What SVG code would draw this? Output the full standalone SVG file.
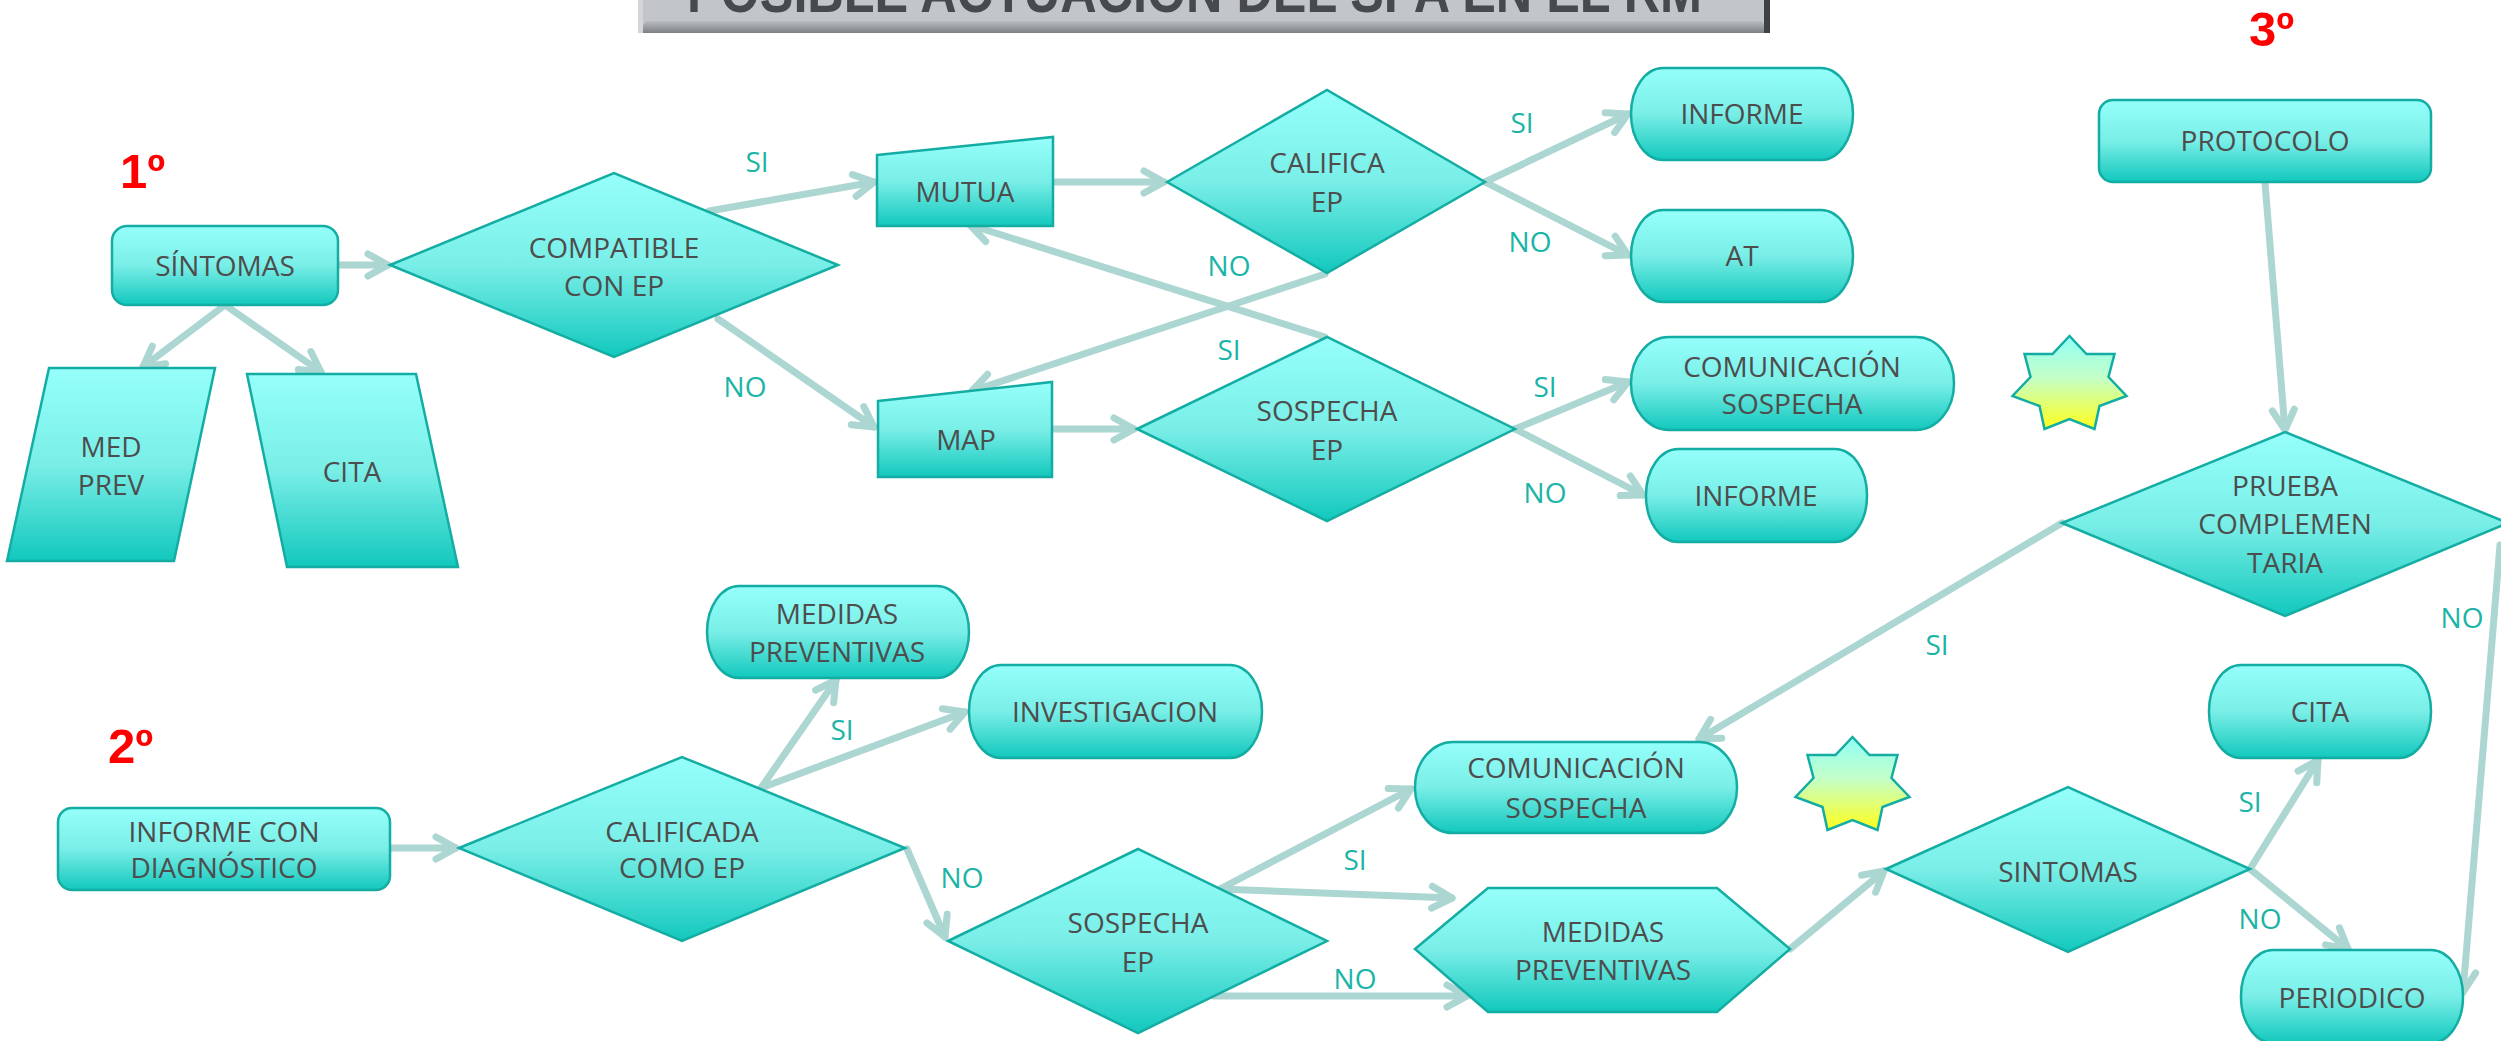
<svg xmlns="http://www.w3.org/2000/svg" width="2501" height="1041" viewBox="0 0 2501 1041">
<style>
.n{fill:url(#g);stroke:#13ada3;stroke-width:2.5}
.t{font-family:"Open Sans","Liberation Sans",sans-serif;font-size:28px;fill:#4d4d4d;text-anchor:middle}
.l{font-family:"Open Sans","Liberation Sans",sans-serif;font-size:28px;fill:#1bb4a7;text-anchor:middle}
.c{stroke:#acd6d1;stroke-width:7;fill:none;stroke-linecap:round;marker-end:url(#a)}
.num{font-family:"Liberation Sans",Arial,sans-serif;font-weight:bold;font-size:49px;fill:#ff0000}
.star{fill:url(#sg);stroke:#13ada3;stroke-width:2.5}
</style>
<defs>
<linearGradient id="g" x1="0" y1="0" x2="0" y2="1">
<stop offset="0" stop-color="#96fffb"/>
<stop offset="0.5" stop-color="#79eee7"/>
<stop offset="1" stop-color="#12c8bd"/>
</linearGradient>
<linearGradient id="sg" x1="0" y1="0" x2="0" y2="1">
<stop offset="0" stop-color="#90fff6"/>
<stop offset="0.45" stop-color="#c4ffc8"/>
<stop offset="1" stop-color="#ffff1a"/>
</linearGradient>
<linearGradient id="tb" x1="0" y1="0" x2="0" y2="1">
<stop offset="0" stop-color="#b9bcc0"/>
<stop offset="1" stop-color="#7c7f83"/>
</linearGradient>
<marker id="a" markerUnits="userSpaceOnUse" viewBox="-30 -20 40 40" refX="0" refY="0" markerWidth="40" markerHeight="40" orient="auto" overflow="visible">
<path d="M-20,-11 L0,0 L-20,11" fill="none" stroke="#acd6d1" stroke-width="7" stroke-linecap="round" stroke-linejoin="round"/>
</marker>
<path id="st" d="M0,0 L17,18 L45,18 L39,41 L57,60 L30,70 L25,93 L0,83 L-25,93 L-30,70 L-57,60 L-39,41 L-45,18 L-17,18 Z"/>
</defs>

<g id="title">
<rect x="638" y="-40" width="1132" height="73" fill="#c2c5c9"/>
<polygon points="646,21 1762,21 1770,33 638,33" fill="url(#tb)"/>
<rect x="638" y="-40" width="5" height="73" fill="#d4d6d9"/>
<rect x="1764" y="-40" width="6" height="73" fill="#3f4245"/>
<text x="687" y="12" font-family="Liberation Sans,Arial,sans-serif" font-weight="bold" font-size="60" fill="#46494e" textLength="1015" lengthAdjust="spacingAndGlyphs">POSIBLE ACTUACIÓN DEL SPA EN EL RM</text>
</g>

<g id="connectors">
<line class="c" x1="338" y1="265" x2="388" y2="265"/>
<line class="c" x1="225" y1="305" x2="143" y2="367"/>
<line class="c" x1="225" y1="305" x2="321" y2="372"/>
<line class="c" x1="709" y1="211" x2="874" y2="182"/>
<line class="c" x1="718" y1="319" x2="874" y2="427"/>
<line class="c" x1="1054" y1="182" x2="1164" y2="182"/>
<line class="c" x1="1054" y1="429" x2="1134" y2="429"/>
<line class="c" x1="1485" y1="182" x2="1628" y2="114"/>
<line class="c" x1="1485" y1="182" x2="1628" y2="255"/>
<line class="c" x1="1325" y1="337" x2="970" y2="225"/>
<line class="c" x1="1325" y1="274" x2="972" y2="391"/>
<line class="c" x1="1515" y1="429" x2="1628" y2="382"/>
<line class="c" x1="1515" y1="429" x2="1643" y2="495"/>
<line class="c" x1="2265" y1="183" x2="2285" y2="430"/>
<line class="c" x1="2062" y1="523" x2="1699" y2="739"/>
<line class="c" x1="2500" y1="545" x2="2463" y2="992"/>
<line class="c" x1="391" y1="848" x2="456" y2="848"/>
<line class="c" x1="761" y1="788" x2="836" y2="680"/>
<line class="c" x1="761" y1="788" x2="965" y2="712"/>
<line class="c" x1="907" y1="849" x2="945" y2="937"/>
<line class="c" x1="1220" y1="889" x2="1411" y2="789"/>
<line class="c" x1="1220" y1="889" x2="1452" y2="898"/>
<line class="c" x1="1214" y1="996" x2="1467" y2="996"/>
<line class="c" x1="1790" y1="949" x2="1884" y2="871"/>
<line class="c" x1="2250" y1="869" x2="2318" y2="760"/>
<line class="c" x1="2250" y1="869" x2="2348" y2="949"/>
</g>

<g id="labels">
<text class="l" x="757" y="172">SI</text>
<text class="l" x="745" y="397">NO</text>
<text class="l" x="1522" y="133">SI</text>
<text class="l" x="1530" y="252">NO</text>
<text class="l" x="1229" y="276">NO</text>
<text class="l" x="1229" y="360">SI</text>
<text class="l" x="1545" y="397">SI</text>
<text class="l" x="1545" y="503">NO</text>
<text class="l" x="1937" y="655">SI</text>
<text class="l" x="2462" y="628">NO</text>
<text class="l" x="842" y="740">SI</text>
<text class="l" x="962" y="888">NO</text>
<text class="l" x="1355" y="870">SI</text>
<text class="l" x="1355" y="989">NO</text>
<text class="l" x="2250" y="812">SI</text>
<text class="l" x="2260" y="929">NO</text>
</g>

<g id="step1"><text class="num" x="120" y="188">1º</text></g>
<g id="step2"><text class="num" x="108" y="763">2º</text></g>
<g id="step3"><text class="num" x="2249" y="46">3º</text></g>

<g id="sintomas1">
<rect class="n" x="112" y="226" width="226" height="79" rx="15"/>
<text class="t" x="225" y="276">SÍNTOMAS</text>
</g>
<g id="compatible">
<polygon class="n" points="390,265 614,173 838,265 614,357"/>
<text class="t" x="614" y="258">COMPATIBLE</text>
<text class="t" x="614" y="296">CON EP</text>
</g>
<g id="medprev">
<polygon class="n" points="49,368 215,368 174,561 7,561"/>
<text class="t" x="111" y="457">MED</text>
<text class="t" x="111" y="495">PREV</text>
</g>
<g id="cita1">
<polygon class="n" points="247,374 416,374 458,567 287,567"/>
<text class="t" x="352" y="482">CITA</text>
</g>
<g id="mutua">
<polygon class="n" points="877,155 1053,137 1053,226 877,226"/>
<text class="t" x="965" y="202">MUTUA</text>
</g>
<g id="map">
<polygon class="n" points="878,401 1052,382 1052,477 878,477"/>
<text class="t" x="966" y="450">MAP</text>
</g>
<g id="califica">
<polygon class="n" points="1167,182 1327,90 1485,182 1327,273"/>
<text class="t" x="1327" y="173">CALIFICA</text>
<text class="t" x="1327" y="212">EP</text>
</g>
<g id="informe1">
<rect class="n" x="1631" y="68" width="222" height="92" rx="32" ry="46"/>
<text class="t" x="1742" y="124">INFORME</text>
</g>
<g id="at">
<rect class="n" x="1631" y="210" width="222" height="92" rx="32" ry="46"/>
<text class="t" x="1742" y="266">AT</text>
</g>
<g id="sospecha1">
<polygon class="n" points="1137,429 1327,337 1515,429 1327,521"/>
<text class="t" x="1327" y="421">SOSPECHA</text>
<text class="t" x="1327" y="460">EP</text>
</g>
<g id="comunicacion1">
<rect class="n" x="1631" y="337" width="323" height="93" rx="38" ry="46"/>
<text class="t" x="1792" y="377">COMUNICACIÓN</text>
<text class="t" x="1792" y="414">SOSPECHA</text>
</g>
<g id="informe2">
<rect class="n" x="1646" y="449" width="221" height="93" rx="32" ry="46"/>
<text class="t" x="1756" y="506">INFORME</text>
</g>
<g id="star1"><use href="#st" class="star" x="2069.5" y="336"/></g>
<g id="protocolo">
<rect class="n" x="2099" y="100" width="332" height="82" rx="14"/>
<text class="t" x="2265" y="151">PROTOCOLO</text>
</g>
<g id="prueba">
<polygon class="n" points="2062,523 2285,432 2508,523 2285,616"/>
<text class="t" x="2285" y="496">PRUEBA</text>
<text class="t" x="2285" y="534">COMPLEMEN</text>
<text class="t" x="2285" y="573">TARIA</text>
</g>
<g id="informecondiag">
<rect class="n" x="58" y="808" width="332" height="82" rx="14"/>
<text class="t" x="224" y="842">INFORME CON</text>
<text class="t" x="224" y="878">DIAGNÓSTICO</text>
</g>
<g id="calificada">
<polygon class="n" points="459,848 682,757 905,848 682,941"/>
<text class="t" x="682" y="842">CALIFICADA</text>
<text class="t" x="682" y="878">COMO EP</text>
</g>
<g id="medidas1">
<rect class="n" x="707" y="586" width="262" height="92" rx="32" ry="46"/>
<text class="t" x="837" y="624">MEDIDAS</text>
<text class="t" x="837" y="662">PREVENTIVAS</text>
</g>
<g id="investigacion">
<rect class="n" x="969" y="665" width="293" height="93" rx="32" ry="46"/>
<text class="t" x="1115" y="722">INVESTIGACION</text>
</g>
<g id="sospecha2">
<polygon class="n" points="948,941 1138,849 1327,941 1138,1033"/>
<text class="t" x="1138" y="933">SOSPECHA</text>
<text class="t" x="1138" y="972">EP</text>
</g>
<g id="comunicacion2">
<rect class="n" x="1415" y="742" width="322" height="91" rx="38" ry="45"/>
<text class="t" x="1576" y="778">COMUNICACIÓN</text>
<text class="t" x="1576" y="818">SOSPECHA</text>
</g>
<g id="star2"><use href="#st" class="star" x="1852.5" y="737"/></g>
<g id="medidas2">
<polygon class="n" points="1415,949 1488,888 1717,888 1790,949 1717,1012 1488,1012"/>
<text class="t" x="1603" y="942">MEDIDAS</text>
<text class="t" x="1603" y="980">PREVENTIVAS</text>
</g>
<g id="sintomas2">
<polygon class="n" points="1886,869 2068,787 2250,869 2068,952"/>
<text class="t" x="2068" y="882">SINTOMAS</text>
</g>
<g id="cita2">
<rect class="n" x="2209" y="665" width="222" height="93" rx="32" ry="46"/>
<text class="t" x="2320" y="722">CITA</text>
</g>
<g id="periodico">
<rect class="n" x="2241" y="950" width="222" height="93" rx="32" ry="46"/>
<text class="t" x="2352" y="1008">PERIODICO</text>
</g>
</svg>
